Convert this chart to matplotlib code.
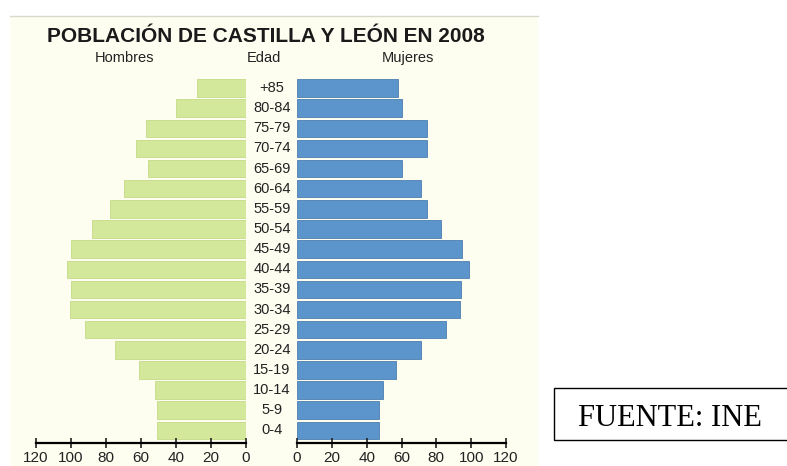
import matplotlib
matplotlib.use("Agg")
import matplotlib.pyplot as plt
import matplotlib.transforms as mtransforms
from matplotlib.patches import Rectangle

# Data read from the pyramid (thousands of people)
edades = ["0-4", "5-9", "10-14", "15-19", "20-24", "25-29", "30-34", "35-39",
          "40-44", "45-49", "50-54", "55-59", "60-64", "65-69", "70-74",
          "75-79", "80-84", "+85"]
hombres = [51, 51, 52, 61, 75, 92, 100.5, 100, 102.5, 100, 88, 78, 70, 56,
           63, 57, 40, 28]
mujeres = [47, 47, 49.5, 57, 71, 85.5, 93.5, 94, 98.5, 94.5, 82.5, 74.5, 71,
           60.5, 74.5, 74.5, 60, 58]
ticks = [0, 20, 40, 60, 80, 100, 120]

green = "#d3e89b"
blue = "#5b95cc"
cream = "#fdfdf0"

plt.rcParams["font.family"] = ["Liberation Sans", "DejaVu Sans"]

fig = plt.figure(figsize=(7.87, 4.66), dpi=100)
W, H = 787.0, 466.0

# cream background of the scanned chart
fig.patches.append(Rectangle((10 / W, 0), 528 / W, 450 / H, transform=fig.transFigure,
                             facecolor=cream, edgecolor="none", zorder=-5))
fig.add_artist(plt.Line2D([10 / W, 538 / W], [450 / H, 450 / H], transform=fig.transFigure,
                          color="#d8d8cc", lw=1, zorder=-4))

bottom = (H - 443) / H
height = 367 / H
ax_l = fig.add_axes([36 / W, bottom, 210 / W, height], zorder=2)
ax_r = fig.add_axes([297 / W, bottom, 209 / W, height], zorder=2)

y = list(range(len(edades)))
ax_l.barh(y, hombres, height=0.87, color=green, edgecolor="#c5db88", linewidth=0.6)
ax_r.barh(y, mujeres, height=0.87, color=blue, edgecolor="#4d7fb0", linewidth=0.6)

for ax in (ax_l, ax_r):
    ax.set_facecolor("none")
    ax.set_ylim(-0.63, 17.6)
    ax.set_xlim(0, 120)
    ax.set_xticks(ticks)
    ax.set_yticks([])
    for s in ("top", "right", "left"):
        ax.spines[s].set_visible(False)
    ax.spines["bottom"].set_linewidth(1.6)
    ax.tick_params(axis="x", direction="inout", length=7, width=1.2,
                   labelsize=11, pad=2, colors="#222222")
ax_l.invert_xaxis()

# age labels in the middle
trans = mtransforms.blended_transform_factory(fig.transFigure, ax_r.transData)
for i, lab in enumerate(edades):
    ax_r.text(272 / W, i, lab, transform=trans, ha="center", va="center",
              fontsize=10.5, color="#222222", clip_on=False)

fig.text(266 / W, 1 - 37 / H, "POBLACIÓN DE CASTILLA Y LEÓN EN 2008", ha="center",
         va="center", fontsize=15, fontweight="bold", color="#1a1a1a")
fig.text(124 / W, 1 - 58 / H, "Hombres", ha="center", va="center", fontsize=10.5, color="#222222")
fig.text(264 / W, 1 - 58 / H, "Edad", ha="center", va="center", fontsize=10.5, color="#222222")
fig.text(408 / W, 1 - 58 / H, "Mujeres", ha="center", va="center", fontsize=10.5, color="#222222")

# source box
fig.patches.append(Rectangle((554 / W, (H - 440) / H), 240 / W, 52 / H, transform=fig.transFigure,
                             facecolor="white", edgecolor="black", linewidth=1))
fig.text(670 / W, 1 - 418 / H, "FUENTE: INE", ha="center", va="center",
         fontsize=22, family="Liberation Serif", color="black")

fig.savefig("out.png", dpi=100, facecolor="white")
